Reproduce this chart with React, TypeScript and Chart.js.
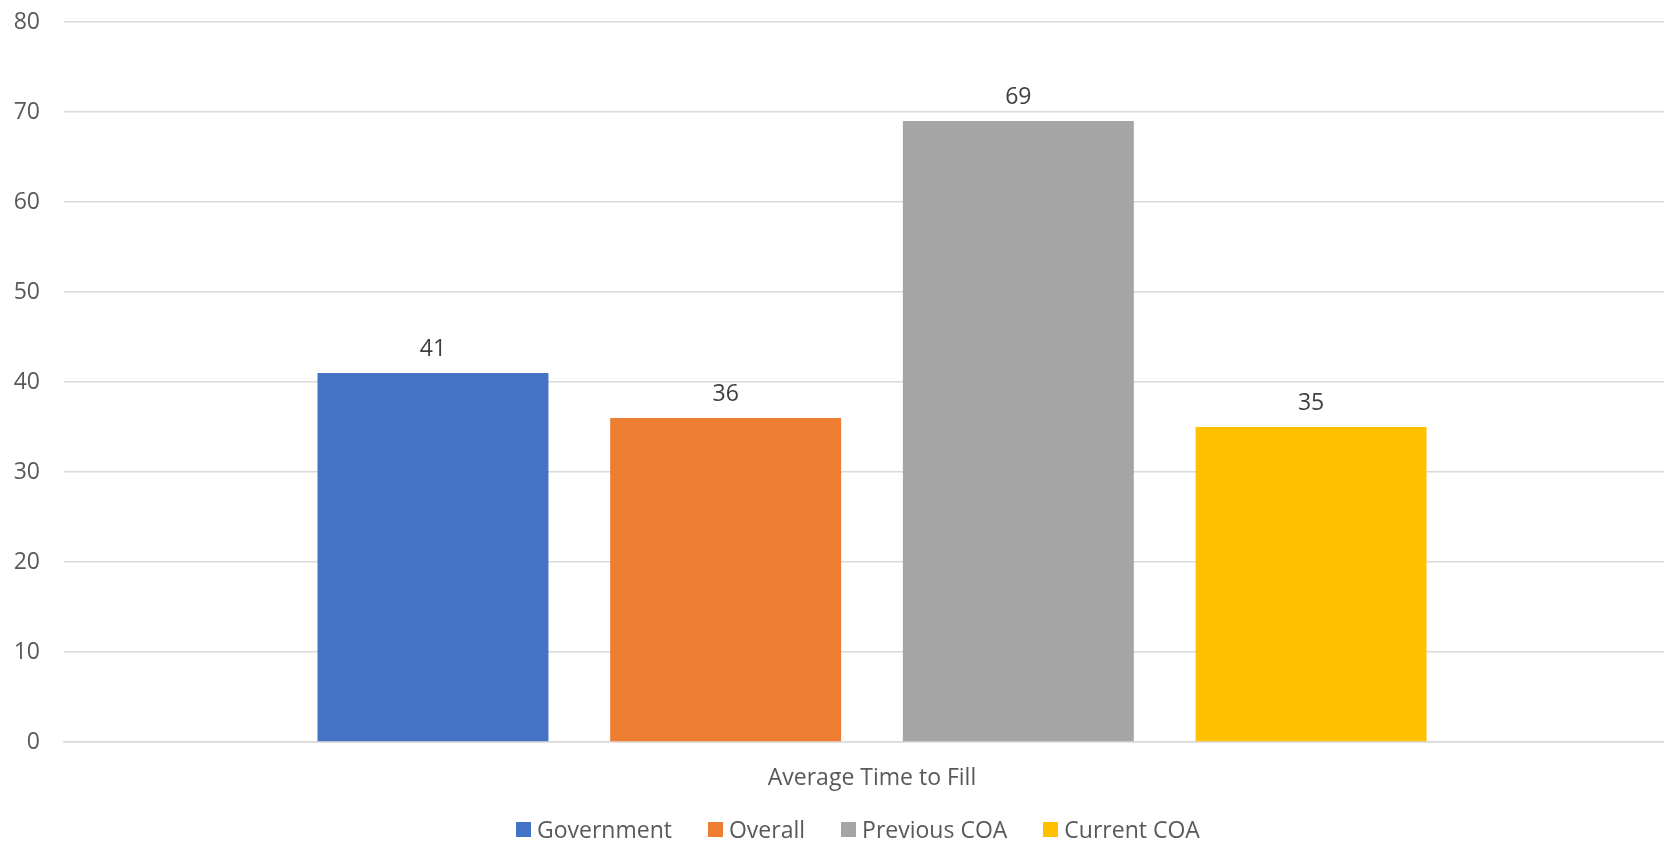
import React, { useEffect, useRef } from "react";
import { Chart, registerables } from "chart.js";

Chart.register(...registerables);

// Chart content
const categories = ["Average Time to Fill"];
const seriesNames = ["Government", "Overall", "Previous COA", "Current COA"];
const seriesValues = [[41], [36], [69], [35]];
const seriesColors = ["#4472C4", "#ED7D31", "#A5A5A5", "#FFC000"];
const yTicks = [0, 10, 20, 30, 40, 50, 60, 70, 80];

const FONT = "'Open Sans', 'Noto Sans', sans-serif";
const FONT_SIZE = 23;
const TICK_COLOR = "#595959";
const LABEL_COLOR = "#404040";
const GRID_COLOR = "#D9D9D9";

// Writes each bar's value just above its top edge
const valueLabels = {
  id: "valueLabels",
  afterDatasetsDraw(chart: any) {
    const ctx = chart.ctx;
    ctx.save();
    ctx.font = `${FONT_SIZE}px ${FONT}`;
    ctx.fillStyle = LABEL_COLOR;
    ctx.textAlign = "center";
    ctx.textBaseline = "alphabetic";
    chart.data.datasets.forEach((ds: any, i: number) => {
      const meta = chart.getDatasetMeta(i);
      meta.data.forEach((bar: any, j: number) => {
        ctx.fillText(String(ds.data[j]), bar.x, bar.y - 17);
      });
    });
    ctx.restore();
  },
};

export default function App() {
  const canvasRef = useRef<HTMLCanvasElement | null>(null);

  useEffect(() => {
    if (!canvasRef.current) return;
    const chart = new Chart(canvasRef.current, {
      type: "bar",
      data: {
        labels: categories,
        datasets: seriesNames.map((name, i) => ({
          label: name,
          data: seriesValues[i],
          backgroundColor: seriesColors[i],
          borderWidth: 0,
          categoryPercentage: 0.7245,
          barPercentage: 0.789,
        })),
      },
      options: {
        responsive: false,
        animation: false,
        layout: { padding: { top: 22, right: 0, left: 0, bottom: 0 } },
        plugins: {
          legend: { display: false },
          tooltip: { enabled: false },
        },
        scales: {
          x: {
            grid: { display: false, drawTicks: false },
            border: { display: true, color: GRID_COLOR, width: 1.5 },
            ticks: {
              color: TICK_COLOR,
              font: { family: FONT, size: FONT_SIZE },
              padding: 23,
            },
            afterFit(scale: any) {
              scale.height = 101;
              scale.paddingLeft = 0;
              scale.paddingRight = 0;
            },
          },
          y: {
            min: 0,
            max: 80,
            afterBuildTicks(scale: any) {
              scale.ticks = yTicks.map((v) => ({ value: v }));
            },
            grid: { color: GRID_COLOR, lineWidth: 1.5, drawTicks: false },
            border: { display: false },
            ticks: {
              color: TICK_COLOR,
              font: { family: FONT, size: FONT_SIZE },
              padding: 24,
            },
            afterFit(scale: any) {
              scale.width = 64;
              scale.paddingTop = 0;
              scale.paddingBottom = 0;
            },
          },
        },
      },
      plugins: [valueLabels],
    });
    return () => chart.destroy();
  }, []);

  return (
    <div
      style={{
        position: "fixed",
        left: 0,
        top: 0,
        width: 1664,
        height: 843,
        overflow: "hidden",
        background: "#fff",
      }}
    >
      <canvas
        ref={canvasRef}
        width={1680}
        height={843}
        style={{ display: "block", width: 1680, height: 843 }}
      />
      <div
        style={{
          position: "absolute",
          left: 516,
          top: 814,
          height: 30,
          display: "flex",
          alignItems: "center",
          gap: 36,
          fontFamily: FONT,
          fontSize: FONT_SIZE,
          lineHeight: "30px",
          color: TICK_COLOR,
          whiteSpace: "nowrap",
        }}
      >
        {seriesNames.map((name, i) => (
          <div key={name} style={{ display: "flex", alignItems: "center" }}>
            <span
              style={{
                display: "inline-block",
                width: 15,
                height: 15,
                background: seriesColors[i],
                marginRight: 6,
              }}
            />
            <span>{name}</span>
          </div>
        ))}
      </div>
    </div>
  );
}
